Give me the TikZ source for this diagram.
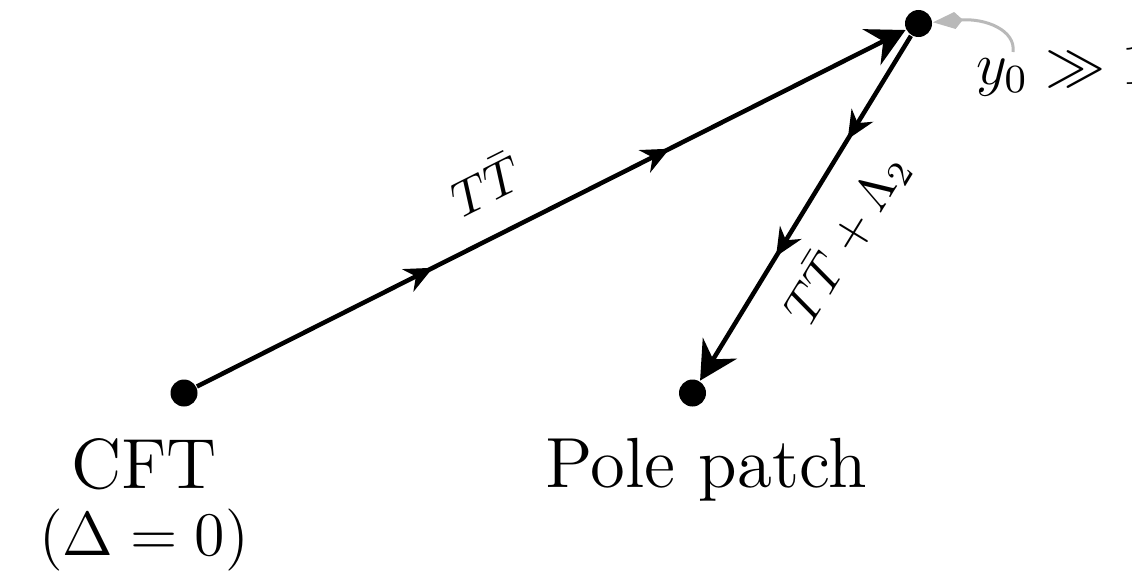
\documentclass[tikz,border=0pt]{standalone}
\usepackage{fix-cm}
\usetikzlibrary{arrows.meta,decorations.markings}
\begin{document}
\begin{tikzpicture}[x=0.2pt,y=-0.2pt,
  dot/.style={circle,fill=black,inner sep=0pt,minimum size=5.4pt},
  flow/.style n args={2}{line width=0.9pt,
     -{Stealth[length=7.6pt,width=8pt,inset=2.6pt]},
     postaction={decorate},
     decoration={markings,
       mark=at position #1 with {\arrow{Stealth[length=5.6pt,width=5pt,inset=1.8pt]}},
       mark=at position #2 with {\arrow{Stealth[length=5.6pt,width=5pt,inset=1.8pt]}}}},
  lab/.style={font=\fontsize{10}{12}\selectfont, inner sep=0pt},
  note/.style={font=\fontsize{12}{14}\selectfont, inner sep=0pt},
  big/.style={font=\fontsize{14.2}{17}\selectfont, inner sep=0pt, anchor=base},
  mid/.style={font=\fontsize{12.4}{14}\selectfont, inner sep=0pt, anchor=base},
  pointer/.style={draw=gray!55, line width=0.6pt,
     -{Kite[length=6pt,width=3.4pt,inset=1.6pt]}}
]
\useasboundingbox (0,0) rectangle (1132,573);

\node[dot] (A) at (184,393) {};
\node[dot] (B) at (918.5,23.5) {};
\node[dot] (C) at (692.5,393) {};

\draw[flow={0.333}{0.667}] (A) -- (B);
\draw[flow={0.3}{0.64}] (B) -- (C);

\path (A) -- (B) node[lab, pos=0.44, sloped, above=6pt] (l1) {$T\bar{T}$};
\path (C) -- (B) node[lab, pos=0.49, sloped, below=5pt] (l2) {$T\bar{T}+\Lambda_2$};

\coordinate (g) at (1013,52);
\draw[pointer] (g) .. controls (1016,30) and (985,18) .. (B);
\node[note, anchor=base west] (l3) at (975,84) {$y_0\gg 1$};

\node[big] (cft) at (144,488) {CFT};
\node[mid] (cftd) at (144,555) {$(\Delta = 0)$};
\node[big] (pole) at (706,487) {Pole patch};
\end{tikzpicture}
\end{document}
